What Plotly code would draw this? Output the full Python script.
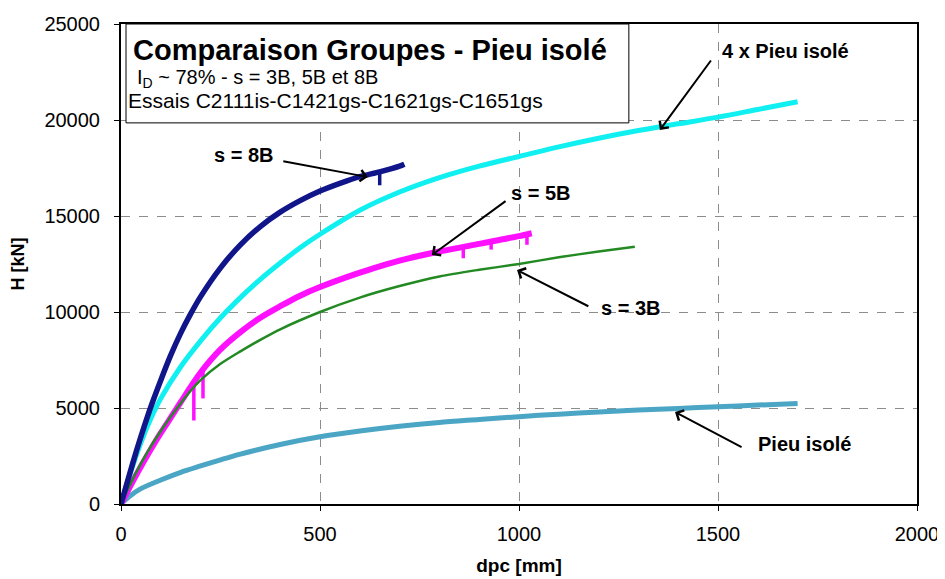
import plotly.graph_objects as go

# ---- data ----
x_isole = [0, 20, 50, 100, 150, 200, 250, 300, 400, 500, 600, 700, 800, 900, 1000,
           1100, 1200, 1300, 1400, 1500, 1600, 1700]
h_isole = [0, 380, 800, 1250, 1650, 1980, 2300, 2600, 3100, 3500, 3800, 4050, 4250, 4400,
           4550, 4680, 4790, 4890, 4980, 5060, 5150, 5240]

x_4x = [0, 25, 50, 75, 100, 150, 200, 250, 300, 350, 400, 450, 500, 600, 700, 800, 900,
        1000, 1100, 1200, 1300, 1400, 1500, 1600, 1700]
h_4x = [0, 1700, 3200, 4450, 5500, 7150, 8500, 9700, 10750, 11700, 12550, 13350, 14050,
        15300, 16250, 17000, 17600, 18100, 18600, 19050, 19450, 19800, 20150, 20550, 20950]

x_8b = [0, 20, 40, 60, 80, 100, 125, 150, 175, 200, 250, 300, 350, 400, 450, 500, 550,
        600, 650, 700, 712]
h_8b = [0, 1450, 2850, 4150, 5350, 6450, 7750, 8900, 9900, 10800, 12300, 13500, 14450,
        15200, 15800, 16300, 16700, 17050, 17300, 17600, 17700]
# downward spikes of the s = 8B record: position, top, bottom
x_8b_spk = [650]
h_8b_spk_top = [17300]
h_8b_spk_bot = [16600]

x_5b = [0, 25, 50, 75, 100, 125, 150, 175, 200, 250, 300, 350, 400, 450, 500, 600, 650,
        700, 800, 900, 950, 1000, 1032]
h_5b = [0, 1000, 1950, 2850, 3700, 4500, 5300, 6100, 6850, 8050, 8950, 9700, 10300,
        10850, 11300, 12050, 12380, 12680, 13150, 13550, 13750, 13950, 14100]
x_5b_spk = [183, 206, 860, 930, 1020]
h_5b_spk_top = [6300, 7000, 13350, 13650, 14050]
h_5b_spk_bot = [4350, 5500, 12800, 13250, 13500]

x_3b = [0, 25, 50, 75, 100, 125, 150, 175, 200, 250, 300, 350, 400, 500, 600, 700, 800,
        900, 1000, 1100, 1200, 1291]
h_3b = [0, 1100, 2100, 3000, 3800, 4550, 5250, 5900, 6450, 7300, 7950, 8550, 9100, 10000,
        10750, 11350, 11850, 12200, 12500, 12850, 13150, 13400]

x_ticks = [0, 500, 1000, 1500, 2000]
y_ticks = [0, 5000, 10000, 15000, 20000, 25000]

FONT = "Arial, Liberation Sans, sans-serif"
SPL = dict(shape="spline", smoothing=0.8)


def spikes(xs, tops, bots):
    sx, sy = [], []
    for xv, t, b in zip(xs, tops, bots):
        sx += [xv, xv, None]
        sy += [t, b, None]
    return sx, sy


fig = go.Figure()
fig.add_trace(go.Scatter(x=x_isole, y=h_isole, mode="lines", name="Pieu isolé",
                         line=dict(color="#4BA5C4", width=5, **SPL)))
fig.add_trace(go.Scatter(x=x_4x, y=h_4x, mode="lines", name="4 x Pieu isolé",
                         line=dict(color="#10F0F0", width=5, **SPL)))
fig.add_trace(go.Scatter(x=x_5b, y=h_5b, mode="lines", name="s = 5B",
                         line=dict(color="#FF10FF", width=6, **SPL)))
sx, sy = spikes(x_5b_spk, h_5b_spk_top, h_5b_spk_bot)
fig.add_trace(go.Scatter(x=sx, y=sy, mode="lines", showlegend=False, hoverinfo="skip",
                         line=dict(color="#FF10FF", width=3.5)))
fig.add_trace(go.Scatter(x=x_3b, y=h_3b, mode="lines", name="s = 3B",
                         line=dict(color="#238A23", width=2.5, **SPL)))
fig.add_trace(go.Scatter(x=x_8b, y=h_8b, mode="lines", name="s = 8B",
                         line=dict(color="#10168A", width=5.5, **SPL)))
sx, sy = spikes(x_8b_spk, h_8b_spk_top, h_8b_spk_bot)
fig.add_trace(go.Scatter(x=sx, y=sy, mode="lines", showlegend=False, hoverinfo="skip",
                         line=dict(color="#10168A", width=3.5)))

axis_common = dict(showline=True, linecolor="black", linewidth=2, mirror=True,
                   ticks="outside", ticklen=5, tickcolor="black", tickwidth=1,
                   showgrid=True, gridcolor="#8c8c8c", gridwidth=1, griddash="dash",
                   zeroline=False, automargin=False,
                   tickfont=dict(family=FONT, size=20, color="black"))

fig.update_xaxes(range=[0, 2000], tickvals=x_ticks, ticktext=[str(v) for v in x_ticks],
                 ticklabelstandoff=6,
                 title=dict(text="<b>dpc [mm]</b>", font=dict(family=FONT, size=19, color="black"),
                            standoff=15),
                 **axis_common)
fig.update_yaxes(range=[0, 25000], tickvals=y_ticks, ticktext=[str(v) for v in y_ticks],
                 ticklabelstandoff=10,
                 title=dict(text="<b>H [kN]</b>", font=dict(family=FONT, size=18, color="black"),
                            standoff=18),
                 **axis_common)

# title box
fig.add_shape(type="rect", xref="paper", yref="paper", x0=0.0063, x1=0.638, y0=0.794, y1=1.0,
              line=dict(color="black", width=1), fillcolor="white", layer="above")

box_texts = [
    ("<b>Comparaison Groupes - Pieu isolé</b>", 0.013, 0.946, 29),
    ("I<sub>D</sub> ~ 78% - s = 3B, 5B et 8B", 0.017, 0.886, 20),
    ("Essais C2111is-C1421gs-C1621gs-C1651gs", 0.006, 0.840, 21),
]
for txt, xp, yp, sz in box_texts:
    fig.add_annotation(text=txt, xref="paper", yref="paper", x=xp, y=yp, xanchor="left",
                       yanchor="middle", showarrow=False,
                       font=dict(family=FONT, size=sz, color="black"))

# labels
labels = [
    ("s = 8B", 309, 18177),
    ("4 x Pieu isolé", 1670, 23618),
    ("s = 5B", 1055, 16197),
    ("s = 3B", 1281, 10208),
    ("Pieu isolé", 1718, 3125),
]
for txt, xl, yl in labels:
    fig.add_annotation(text="<b>" + txt + "</b>", x=xl, y=yl, xref="x", yref="y",
                       showarrow=False, font=dict(family=FONT, size=20, color="black"))

# arrows (tail -> tip)
arrows = [
    (404, 17864, 620, 17030),
    (1485, 23177, 1354, 19479),
    (970, 15833, 781, 12968),
    (1178, 10260, 995, 12187),
    (1563, 2917, 1392, 4792),
]
for ax_, ay_, x_, y_ in arrows:
    fig.add_annotation(text="", x=x_, y=y_, ax=ax_, ay=ay_, xref="x", yref="y",
                       axref="x", ayref="y", showarrow=True, arrowhead=4, arrowsize=1.1,
                       arrowwidth=2, arrowcolor="black")

# page body has an 8px margin: size the figure so the plot lands where the reference has it
fig.update_layout(width=937, height=571, autosize=False,
                  margin=dict(l=113, r=28, t=16, b=75),
                  paper_bgcolor="white", plot_bgcolor="white", showlegend=False,
                  font=dict(family=FONT, color="black"))

fig.write_html("out.html")
